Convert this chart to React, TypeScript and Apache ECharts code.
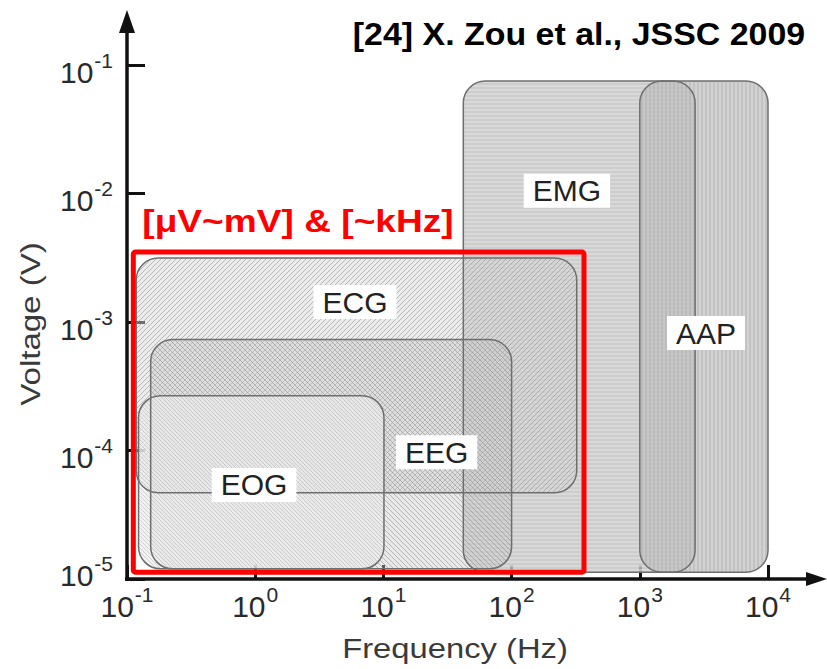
import React, { useEffect, useRef } from 'react';
import * as echarts from 'echarts';

// ---- data ----
const signals = ['EMG', 'AAP', 'ECG', 'EEG', 'EOG'];
const freqLow = [42, 1000, 0.118, 0.153, 0.123];
const freqHigh = [2700, 10000, 322, 100, 10.1];
const voltLow = [1.13e-5, 1.13e-5, 4.7e-5, 1.2e-5, 1.2e-5];
const voltHigh = [0.075, 0.075, 3.15e-3, 7.3e-4, 2.67e-4];
const labelFreq = [270, 3280, 6.0, 26, 0.98];
const labelVolt = [1.05e-2, 8.2e-4, 1.43e-3, 9.7e-5, 5.4e-5];

const highlightFreq = [0.112, 367];
const highlightVolt = [1.13e-5, 3.5e-3];

const xRange = [0.1, 10000];
const yRange = [1e-5, 0.1];

const titleText = '[24] X. Zou et al., JSSC 2009';
const highlightText = '[μV~mV] & [~kHz]';
const xName = 'Frequency (Hz)';
const yName = 'Voltage (V)';

// ---- layout ----
const W = 827;
const H = 669;
const GL = 127;
const GT = 65;
const GR = 768;
const GB = 579;
const FONT = '"Liberation Sans", Arial, Helvetica, sans-serif';

function hatch(size: number, bg: string, line: string, lw: number, dir: string) {
  const c = document.createElement('canvas');
  c.width = size;
  c.height = size;
  const g = c.getContext('2d')!;
  g.fillStyle = bg;
  g.fillRect(0, 0, size, size);
  g.strokeStyle = line;
  g.lineWidth = lw;
  g.beginPath();
  if (dir === 'h') {
    g.moveTo(0, size / 2);
    g.lineTo(size, size / 2);
  } else if (dir === 'v') {
    g.moveTo(size / 2, 0);
    g.lineTo(size / 2, size);
  } else if (dir === '/') {
    for (const o of [-size, 0, size]) {
      g.moveTo(o, size);
      g.lineTo(o + size, 0);
    }
  } else {
    for (const o of [-size, 0, size]) {
      g.moveTo(o, 0);
      g.lineTo(o + size, size);
    }
  }
  g.stroke();
  return { image: c, repeat: 'repeat' } as any;
}

export default function App() {
  const ref = useRef<HTMLDivElement>(null);

  useEffect(() => {
    if (!ref.current) return;
    const chart = echarts.init(ref.current, undefined, { renderer: 'svg' });

    const patterns = [
      hatch(4, 'rgba(192,192,192,0.8)', 'rgba(232,232,232,0.6)', 1.5, 'h'),
      hatch(4, 'rgba(195,195,195,0.75)', 'rgba(160,160,160,0.5)', 1.2, 'v'),
      hatch(5, 'rgba(212,212,212,0.45)', 'rgba(140,140,140,0.55)', 1, '/'),
      hatch(5, 'rgba(200,200,200,0.4)', 'rgba(130,130,130,0.5)', 1, '\\'),
      hatch(4, 'rgba(238,238,238,0.75)', 'rgba(175,175,175,0.5)', 1, '\\'),
    ];

    const boxData = signals.map((s, i) => [freqLow[i], freqHigh[i], voltLow[i], voltHigh[i]]);
    const labelData = signals.map((s, i) => [labelFreq[i], labelVolt[i]]);

    const rectOf = (api: any) => {
      const p0 = api.coord([api.value(0), api.value(3)]);
      const p1 = api.coord([api.value(1), api.value(2)]);
      return { x: p0[0], y: p0[1], width: p1[0] - p0[0], height: p1[1] - p0[1] };
    };

    const C = '#2a2a2a';
    const tickLabelRich = {
      b: { fontSize: 30, fontFamily: FONT, color: C, lineHeight: 30, padding: [14, 0, 0, 0] },
      s: { fontSize: 21, fontFamily: FONT, color: C, lineHeight: 21, padding: [0, 0, 10, 1] },
      bl: { fontSize: 30, fontFamily: FONT, color: C, lineHeight: 30, padding: [0, 0, 8, 0] },
      sl: { fontSize: 21, fontFamily: FONT, color: C, lineHeight: 21, padding: [0, 0, 32, 1] },
    };
    const fmtX = (v: number) => `{b|10}{s|${Math.round(Math.log10(v))}}`;
    const fmtY = (v: number) => {
      const e = Math.round(Math.log10(v));
      return v <= yRange[0] * 1.0001 ? `{bl|10}{sl|${e}}` : `{b|10}{s|${e}}`;
    };

    chart.setOption({
      animation: false,
      backgroundColor: '#ffffff',
      grid: { left: GL, top: GT, right: W - GR, bottom: H - GB },
      xAxis: {
        type: 'log',
        logBase: 10,
        min: xRange[0],
        max: xRange[1],
        axisLine: { show: false },
        splitLine: { show: false },
        minorTick: { show: false },
        axisTick: { show: true, inside: true, length: 14, lineStyle: { color: '#111', width: 3 } },
        axisLabel: { show: true, margin: 5, formatter: fmtX, rich: tickLabelRich },
      },
      yAxis: {
        type: 'log',
        logBase: 10,
        min: yRange[0],
        max: yRange[1],
        axisLine: { show: false },
        splitLine: { show: false },
        axisTick: { show: true, inside: true, length: 18, lineStyle: { color: '#111', width: 3 } },
        axisLabel: { show: true, margin: 14, formatter: fmtY, rich: tickLabelRich },
      },
      series: [
        {
          type: 'custom',
          name: 'fills',
          data: boxData,
          encode: { x: [0, 1], y: [2, 3] },
          z: 1,
          renderItem: (params: any, api: any) => ({
            type: 'rect',
            shape: { ...rectOf(api), r: 22 },
            style: { fill: patterns[params.dataIndex], stroke: 'none' },
          }),
        },
        {
          type: 'custom',
          name: 'outlines',
          data: boxData,
          encode: { x: [0, 1], y: [2, 3] },
          z: 2,
          renderItem: (params: any, api: any) => ({
            type: 'rect',
            shape: { ...rectOf(api), r: 22 },
            style: { fill: 'none', stroke: '#6e6e6e', lineWidth: 1.5 },
          }),
        },
        {
          type: 'custom',
          name: 'labels',
          data: labelData,
          encode: { x: 0, y: 1 },
          z: 3,
          renderItem: (params: any, api: any) => {
            const p = api.coord([api.value(0), api.value(1)]);
            return {
              type: 'text',
              x: p[0],
              y: p[1],
              style: {
                text: signals[params.dataIndex],
                fontSize: 30,
                fontFamily: FONT,
                fill: '#222',
                align: 'center',
                verticalAlign: 'middle',
                backgroundColor: '#ffffff',
                padding: [3, 9, 1, 9],
              },
            };
          },
        },
        {
          type: 'custom',
          name: 'highlight',
          data: [[highlightFreq[0], highlightFreq[1], highlightVolt[0], highlightVolt[1]]],
          encode: { x: [0, 1], y: [2, 3] },
          z: 4,
          renderItem: (params: any, api: any) => ({
            type: 'rect',
            shape: { ...rectOf(api), r: 2 },
            style: { fill: 'none', stroke: '#ff0000', lineWidth: 5 },
          }),
        },
      ],
      graphic: [
        { type: 'line', z: 10, shape: { x1: GL, y1: GB + 2, x2: GL, y2: 28 }, style: { stroke: '#111', lineWidth: 3.5 } },
        { type: 'polygon', z: 10, shape: { points: [[GL, 10], [GL - 8, 33], [GL + 8, 33]] }, style: { fill: '#111' } },
        { type: 'line', z: 10, shape: { x1: GL - 2, y1: GB, x2: 810, y2: GB }, style: { stroke: '#111', lineWidth: 3.5 } },
        { type: 'polygon', z: 10, shape: { points: [[827, GB], [806, GB - 7], [806, GB + 7]] }, style: { fill: '#111' } },
        {
          type: 'text', z: 10, x: 579, y: 34, scaleX: 1.06,
          style: { text: titleText, fontSize: 32, fontWeight: 'bold', fontFamily: FONT, fill: '#000', align: 'center', verticalAlign: 'middle' },
        },
        {
          type: 'text', z: 10, x: 298, y: 221, scaleX: 1.16,
          style: { text: highlightText, fontSize: 32, fontWeight: 'bold', fontFamily: FONT, fill: '#ff0000', align: 'center', verticalAlign: 'middle' },
        },
        {
          type: 'text', z: 10, x: 455, y: 648, scaleX: 1.17,
          style: { text: xName, fontSize: 28, fontFamily: FONT, fill: '#3a3a3a', align: 'center', verticalAlign: 'middle' },
        },
        {
          type: 'text', z: 10, x: 30, y: 324, scaleX: 1.18, rotation: Math.PI / 2,
          style: { text: yName, fontSize: 28, fontFamily: FONT, fill: '#3a3a3a', align: 'center', verticalAlign: 'middle' },
        },
      ],
    });

    return () => chart.dispose();
  }, []);

  return <div ref={ref} style={{ position: 'absolute', left: 0, top: 0, width: W, height: H }} />;
}
